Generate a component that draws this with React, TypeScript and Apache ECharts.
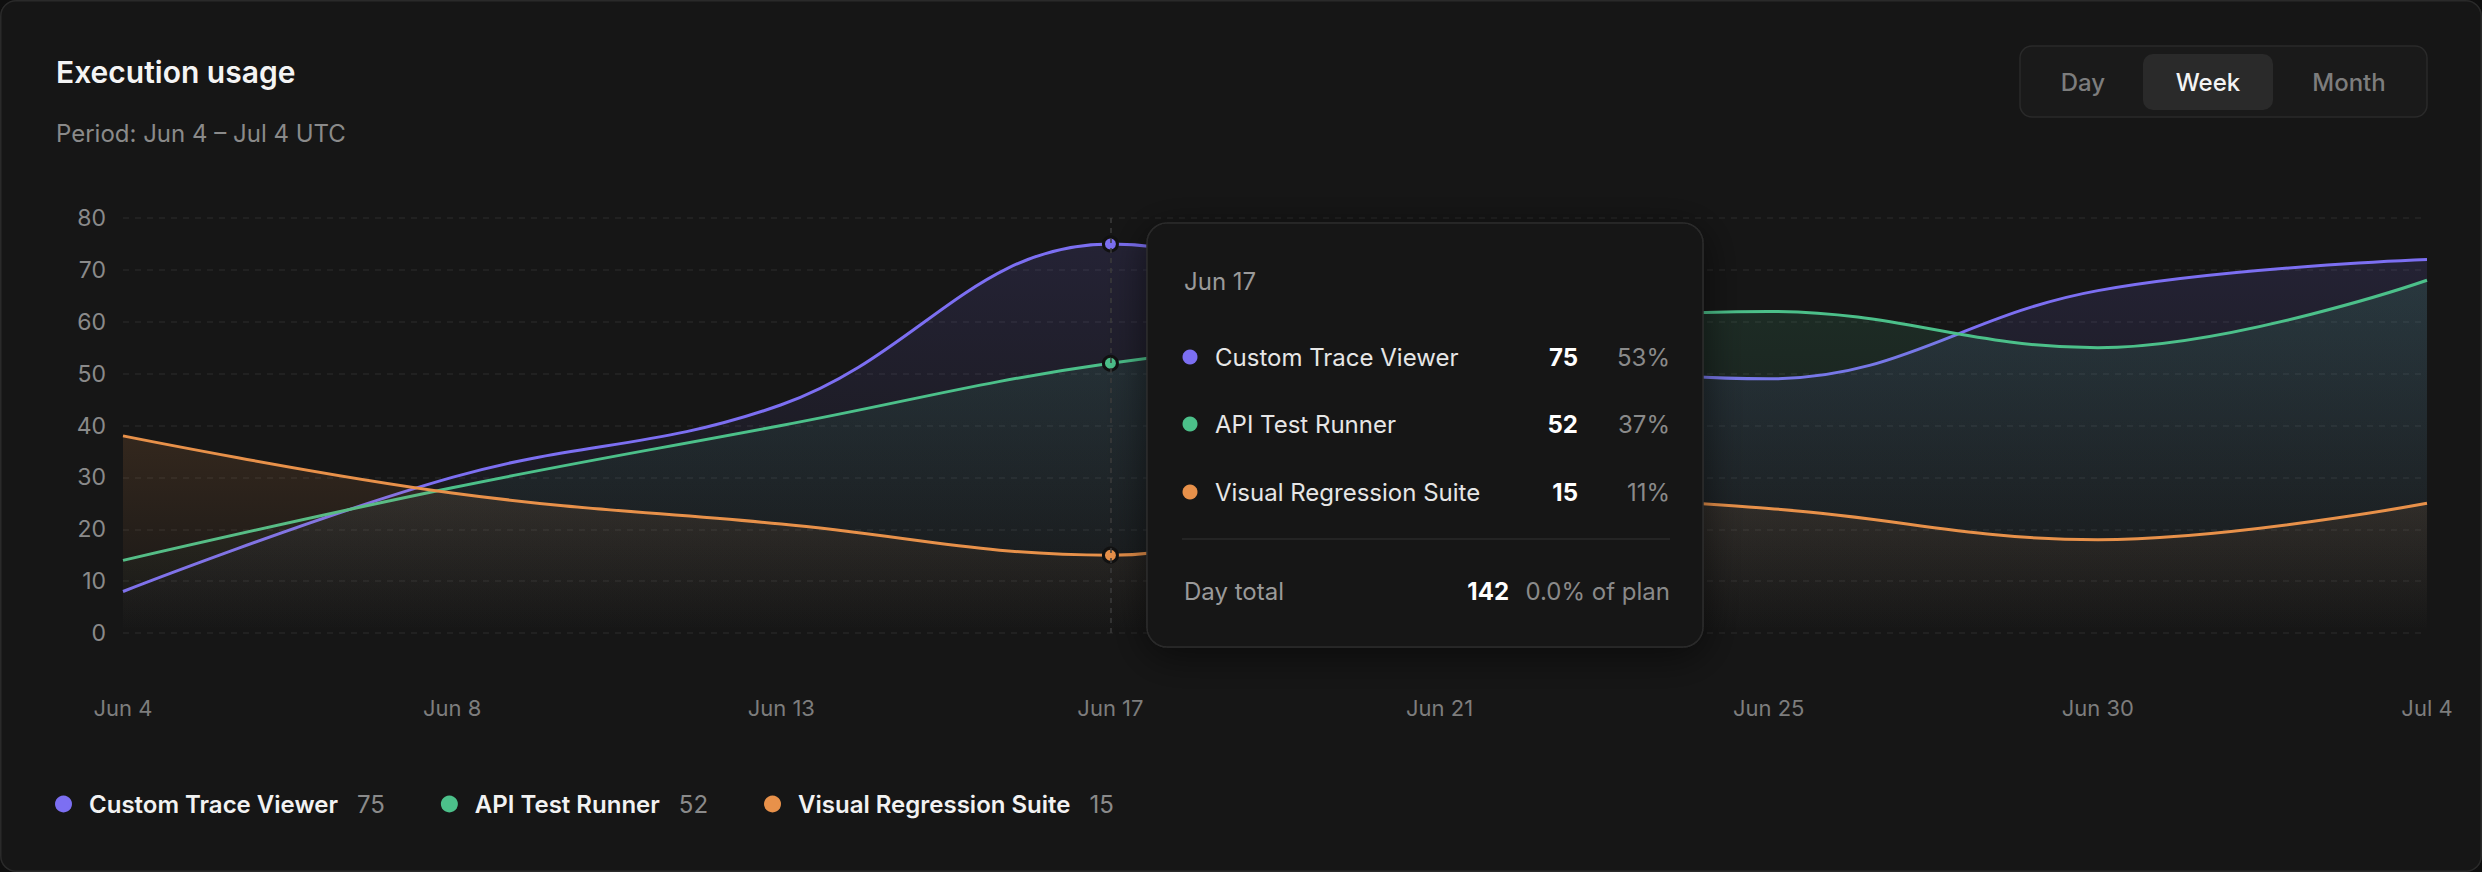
import React, { useEffect, useRef } from "react";
import * as echarts from "echarts";

const categories = ["Jun 4", "Jun 8", "Jun 13", "Jun 17", "Jun 21", "Jun 25", "Jun 30", "Jul 4"];
const seriesNames = ["Custom Trace Viewer", "API Test Runner", "Visual Regression Suite"];
const customTraceViewer = [8, 30, 44, 75, 57, 49, 66, 72];
const apiTestRunner = [14, 28, 40, 52, 58, 62, 55, 68];
const visualRegressionSuite = [38, 27, 21, 15, 27, 24, 18, 25];
const seriesColors = ["#7C6FF2", "#4CC08A", "#E8914A"];
const tabs = ["Day", "Week", "Month"];
const activeTab = "Week";
const focusIndex = 3;
const planShare = "0.0% of plan";
const titleText = "Execution usage";
const periodText = "Period: Jun 4 – Jul 4 UTC";

const FONT = "Inter, 'Noto Sans', sans-serif";

function hexToRgba(hex: string, a: number) {
  const n = parseInt(hex.slice(1), 16);
  return `rgba(${(n >> 16) & 255},${(n >> 8) & 255},${n & 255},${a})`;
}

export default function App() {
  const ref = useRef<HTMLDivElement>(null);

  useEffect(() => {
    document.body.style.margin = "0";
    document.body.style.background = "#0f0f0f";
    if (!ref.current) return;
    const chart = echarts.init(ref.current, null, { renderer: "svg" });
    const data = [customTraceViewer, apiTestRunner, visualRegressionSuite];
    const focusVals = data.map((d) => d[focusIndex]);
    const total = focusVals.reduce((a, b) => a + b, 0);
    const valueOf: Record<string, number> = {};
    seriesNames.forEach((n, i) => (valueOf[n] = focusVals[i]));

    const series = seriesNames.map((name, i) => ({
      name,
      type: "line",
      data: data[i],
      smooth: 0.4,
      showSymbol: true,
      showAllSymbol: true,
      symbol: "circle",
      symbolSize: (_v: any, p: any) => (p.dataIndex === focusIndex ? 14 : 0),
      lineStyle: { color: seriesColors[i], width: 3 },
      itemStyle: { color: seriesColors[i], borderColor: "#111111", borderWidth: 3 },
      areaStyle: {
        color: new echarts.graphic.LinearGradient(0, 0, 0, 1, [
          { offset: 0, color: hexToRgba(seriesColors[i], 0.2) },
          { offset: 1, color: hexToRgba(seriesColors[i], 0) },
        ]),
      },
      emphasis: { disabled: true },
      z: 2 + i,
      ...(i === 0
        ? {
            markLine: {
              silent: true,
              symbol: ["none", "none"],
              label: { show: false },
              lineStyle: { type: [5, 5], color: "#3c3c3c", width: 1.5 },
              data: [{ xAxis: focusIndex }],
            },
          }
        : {}),
    }));

    // Segmented control
    const tabRects: any[] = [
      {
        type: "rect",
        shape: { x: 2020, y: 46, width: 407, height: 71, r: 12 },
        style: { fill: "#1a1a1a", stroke: "#2a2a2a", lineWidth: 1.5 },
        z: 100,
      },
      {
        type: "rect",
        shape: { x: 2143, y: 54, width: 130, height: 56, r: 10 },
        style: { fill: "#2a2a2a" },
        z: 101,
      },
    ];
    const tabCenters = [2083, 2208, 2349];
    const tabTexts = tabs.map((t, i) => ({
      type: "text",
      z: 102,
      style: {
        text: t,
        x: tabCenters[i],
        y: 82,
        fill: t === activeTab ? "#f4f4f4" : "#7d7d7d",
        fontSize: 24,
        fontWeight: 500,
        fontFamily: FONT,
        align: "center",
        verticalAlign: "middle",
        textAlign: "center",
        textVerticalAlign: "middle",
      },
    }));

    // Tooltip panel
    const rowY = [357, 424, 492];
    const tt: any[] = [
      {
        type: "rect",
        z: 100,
        shape: { x: 1147, y: 223, width: 556, height: 424, r: 20 },
        style: {
          fill: "#141414",
          stroke: "#2c2c2c",
          lineWidth: 1.5,
          shadowBlur: 40,
          shadowColor: "rgba(0,0,0,0.55)",
          shadowOffsetY: 8,
        },
      },
      {
        type: "text",
        z: 101,
        style: {
          text: categories[focusIndex],
          x: 1184,
          y: 281,
          fill: "#9a9a9a",
          fontSize: 24,
          fontFamily: FONT,
          verticalAlign: "middle",
          textVerticalAlign: "middle",
        },
      },
    ];
    seriesNames.forEach((n, i) => {
      tt.push({
        type: "circle",
        z: 101,
        shape: { cx: 1190, cy: rowY[i], r: 7.5 },
        style: { fill: seriesColors[i] },
      });
      tt.push({
        type: "text",
        z: 101,
        style: {
          text: n,
          x: 1215,
          y: rowY[i],
          fill: "#e6e6e6",
          fontSize: 24,
          fontFamily: FONT,
          verticalAlign: "middle",
          textVerticalAlign: "middle",
        },
      });
      tt.push({
        type: "text",
        z: 101,
        style: {
          text: String(focusVals[i]),
          x: 1578,
          y: rowY[i],
          fill: "#ffffff",
          fontSize: 24,
          fontWeight: 700,
          fontFamily: FONT,
          align: "right",
          textAlign: "right",
          verticalAlign: "middle",
          textVerticalAlign: "middle",
        },
      });
      tt.push({
        type: "text",
        z: 101,
        style: {
          text: Math.round((focusVals[i] / total) * 100) + "%",
          x: 1670,
          y: rowY[i],
          fill: "#8a8a8a",
          fontSize: 24,
          fontFamily: FONT,
          align: "right",
          textAlign: "right",
          verticalAlign: "middle",
          textVerticalAlign: "middle",
        },
      });
    });
    tt.push({
      type: "line",
      z: 101,
      shape: { x1: 1182, y1: 539, x2: 1670, y2: 539 },
      style: { stroke: "#2a2a2a", lineWidth: 1.5 },
    });
    tt.push({
      type: "text",
      z: 101,
      style: {
        text: "Day total",
        x: 1184,
        y: 591,
        fill: "#9a9a9a",
        fontSize: 24,
        fontFamily: FONT,
        verticalAlign: "middle",
        textVerticalAlign: "middle",
      },
    });
    tt.push({
      type: "text",
      z: 101,
      style: {
        text: String(total),
        x: 1509,
        y: 591,
        fill: "#ffffff",
        fontSize: 24,
        fontWeight: 700,
        fontFamily: FONT,
        align: "right",
        textAlign: "right",
        verticalAlign: "middle",
        textVerticalAlign: "middle",
      },
    });
    tt.push({
      type: "text",
      z: 101,
      style: {
        text: planShare,
        x: 1670,
        y: 591,
        fill: "#8a8a8a",
        fontSize: 24,
        fontFamily: FONT,
        align: "right",
        textAlign: "right",
        verticalAlign: "middle",
        textVerticalAlign: "middle",
      },
    });

    const option: any = {
      animation: false,
      backgroundColor: "transparent",
      title: {
        text: titleText,
        subtext: periodText,
        left: 56,
        top: 53,
        padding: 0,
        itemGap: 27,
        textStyle: { color: "#f4f4f4", fontSize: 30, fontWeight: 600, fontFamily: FONT, lineHeight: 38 },
        subtextStyle: { color: "#8a8a8a", fontSize: 24, fontFamily: FONT, lineHeight: 30 },
      },
      grid: { left: 123, right: 55, top: 218, bottom: 239, containLabel: false },
      xAxis: {
        type: "category",
        data: categories,
        boundaryGap: false,
        axisLine: { show: false },
        axisTick: { show: false },
        splitLine: { show: false },
        axisLabel: { color: "#7d7d7d", fontSize: 22, fontFamily: FONT, margin: 64, interval: 0 },
      },
      yAxis: {
        type: "value",
        min: 0,
        max: 80,
        interval: 10,
        axisLine: { show: false },
        axisTick: { show: false },
        axisLabel: { color: "#8a8a8a", fontSize: 23, fontFamily: FONT, margin: 17 },
        splitLine: { lineStyle: { color: "#262626", type: [6, 6], width: 1.5 } },
      },
      legend: {
        left: 55,
        top: 792,
        padding: 0,
        icon: "circle",
        itemWidth: 17,
        itemHeight: 17,
        itemGap: 56,
        selectedMode: false,
        itemStyle: { borderWidth: 0 },
        data: seriesNames,
        formatter: (name: string) => `{n|${name}}{v|${valueOf[name]}}`,
        textStyle: {
          rich: {
            n: { color: "#f2f2f2", fontSize: 24, fontWeight: 600, fontFamily: FONT, padding: [0, 0, 0, 12], lineHeight: 26 },
            v: { color: "#8a8a8a", fontSize: 24, fontFamily: FONT, padding: [0, 0, 0, 19], lineHeight: 26 },
          },
        },
      },
      series,
      graphic: [...tabRects, ...tabTexts, ...tt],
    };
    chart.setOption(option);
    return () => chart.dispose();
  }, []);

  return (
    <div style={{ width: 2482, height: 872, background: "#0f0f0f", position: "relative" }}>
      <div
        ref={ref}
        style={{
          width: 2482,
          height: 872,
          borderRadius: 16,
          background: "#161616",
          boxShadow: "inset 0 0 0 1.5px #2a2a2a",
        }}
      />
    </div>
  );
}
